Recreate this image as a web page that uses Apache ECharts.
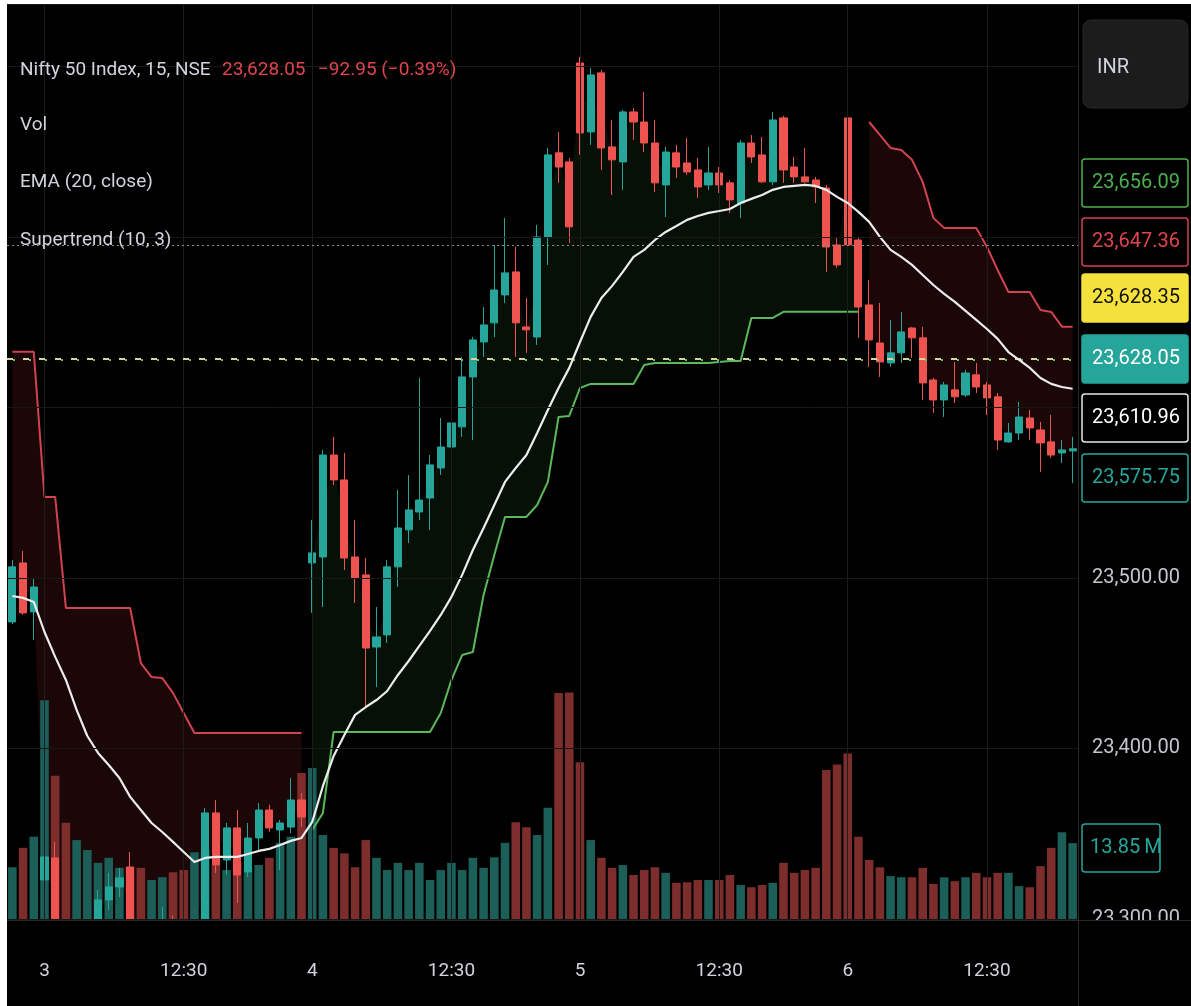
<!DOCTYPE html>
<html><head><meta charset="utf-8">
<script src="https://cdn.jsdelivr.net/npm/echarts@6/dist/echarts.min.js"></script>
<style>
html,body{margin:0;padding:0;background:#fff;width:1191px;height:1006px;overflow:hidden}
#c{position:absolute;left:7px;top:4px;width:1184px;height:1002px;background:#000}
</style></head><body><div id="c"></div>
<script>
// ---- session / category labels ----
const sessionTimes = ['09:15','09:30','09:45','10:00','10:15','10:30','10:45','11:00','11:15','11:30','11:45','12:00','12:15','12:30','12:45','13:00','13:15','13:30','13:45','14:00','14:15','14:30','14:45','15:00','15:15'];
const dayLabels = ['2','3','4','5','6'];
const daySlices = [[22,25],[0,25],[0,25],[0,25],[0,22]];
const tickTimes = ['09:15','12:30'];

// ---- OHLC (15 min candles) ----
const open = [23474.2,23508.8,23480.1,
23322.9,23335.8,23290.0,23276.0,23288.0,23292.0,23311.2,23318.8,23330.5,23290.0,23280.0,23285.0,23299.0,23290.0,23284.0,23290.0,23362.2,23334.6,23353.4,23327.6,23347.5,23363.9,23352.2,23353.9,23369.8,
23508.8,23512.3,23572.1,23557.5,23512.3,23501.8,23459.5,23466.6,23506.5,23528.2,23538.7,23546.9,23564.5,23576.8,23588.6,23617.9,23638.4,23649.6,23666.0,23679.5,23647.2,23641.3,23700.0,23749.3,23744.0,
23802.0,23761.6,23796.2,23752.8,23744.0,23773.3,23767.4,23755.1,23730.5,23749.3,23743.4,23739.3,23730.5,23737.5,23731.7,23719.9,23755.1,23748.1,23732.3,23769.8,23741.0,23735.2,23733.4,23728.7,23695.3,
23769.8,23698.2,23660.1,23637.8,23626.1,23632.0,23646.6,23640.8,23616.1,23604.4,23610.3,23607.3,23619.1,23613.2,23606.2,23579.8,23585.0,23593.8,23586.8,23579.8,23573.3,23574.5];
const close = [23506.5,23479.5,23494.7,
23336.4,23290.0,23275.0,23288.0,23296.0,23311.2,23318.8,23324.1,23290.0,23280.0,23288.0,23296.0,23286.0,23282.0,23296.0,23362.2,23331.7,23353.4,23325.8,23347.5,23363.9,23353.4,23356.3,23369.8,23359.8,
23514.7,23572.1,23557.5,23511.7,23500.0,23458.9,23465.4,23506.5,23529.3,23539.9,23545.7,23566.3,23576.8,23590.9,23617.9,23639.6,23648.4,23668.9,23678.9,23649.6,23645.5,23700.0,23748.1,23741.0,23705.9,
23761.0,23795.0,23752.2,23745.2,23773.3,23767.4,23755.1,23731.7,23749.8,23741.0,23738.1,23729.3,23737.5,23730.5,23721.7,23755.1,23746.9,23732.3,23768.6,23739.3,23735.2,23732.3,23729.3,23694.1,23683.6,
23695.3,23658.9,23639.6,23626.7,23632.0,23644.3,23640.8,23614.4,23604.4,23613.2,23606.2,23620.2,23612.0,23605.6,23580.9,23585.0,23594.4,23588.0,23579.2,23572.1,23575.1,23575.75];
const high = [23510.6,23515.8,23500.0,
23346.3,23345.2,23297.0,23295.0,23299.0,23317.0,23327.0,23329.9,23339.3,23296.0,23295.0,23307.0,23302.0,23297.0,23299.0,23365.0,23369.8,23356.3,23363.9,23356.3,23368.0,23366.9,23358.1,23382.7,23373.9,
23534.0,23575.1,23582.7,23573.3,23534.0,23511.7,23483.0,23510.6,23551.6,23560.4,23617.3,23572.1,23593.8,23613.2,23629.6,23641.3,23658.9,23695.3,23711.1,23694.1,23664.2,23707.0,23752.2,23761.6,23746.3,
23805.6,23799.1,23797.9,23768.6,23774.5,23775.7,23785.0,23768.6,23752.8,23754.0,23758.0,23746.3,23752.8,23741.0,23733.4,23756.9,23759.8,23758.6,23773.3,23771.0,23746.9,23752.2,23735.2,23730.5,23700.0,
23772.7,23700.0,23674.8,23661.3,23651.3,23656.0,23647.2,23647.2,23617.3,23615.0,23626.7,23622.0,23626.1,23615.0,23608.5,23590.9,23603.2,23598.5,23591.5,23595.6,23580.9,23582.7];
const low = [23473.0,23478.3,23463.6,
23296.5,23285.0,23268.0,23270.0,23282.0,23288.0,23305.3,23312.9,23284.0,23272.0,23275.0,23280.0,23278.0,23274.0,23278.0,23285.0,23327.0,23326.0,23309.4,23324.6,23340.5,23351.2,23328.7,23350.4,23353.9,
23479.5,23483.0,23554.5,23504.7,23485.3,23424.3,23436.1,23461.9,23494.7,23520.5,23534.0,23528.2,23560.4,23573.9,23582.7,23580.9,23629.6,23641.3,23661.3,23629.6,23632.0,23636.7,23683.6,23731.7,23696.5,
23748.1,23754.0,23739.3,23724.6,23727.6,23756.9,23749.8,23726.4,23711.7,23734.6,23736.4,23722.9,23727.6,23725.8,23714.1,23711.1,23743.4,23731.7,23730.5,23731.7,23731.7,23731.7,23719.9,23679.5,23681.8,
23684.7,23640.8,23623.8,23617.9,23623.8,23626.1,23629.0,23604.4,23596.8,23594.4,23602.6,23606.2,23608.5,23595.6,23575.1,23579.2,23580.9,23580.9,23562.2,23570.4,23567.4,23555.7];

// ---- Volume (millions) ----
const volume = [9.5,13,15,
39.6,26,17.5,14.4,12.6,10.3,11.2,9.4,9.5,9.4,7.2,7.7,8.6,9,12.2,12.6,10,9,10.3,9.5,9.9,11.2,13.9,15,26.5,
27.4,15.3,13,12,9.5,14.4,11.2,9,10.3,9,10.3,7.2,9,10.3,9,11.2,9.4,11.3,13.9,17.6,16.7,15.3,20.2,40.9,41,
28.4,14.4,11.2,9.4,9.9,8.1,9,9.5,8.5,6.7,6.8,7.2,7.2,7.2,8.1,6.3,5.9,6.3,6.7,10.3,8.5,9,9.4,27,28,
30,15,10.8,9.5,7.9,7.7,7.7,9.4,6.5,7.7,7,7.7,8.5,7.7,8.5,8.5,6.1,5.9,9.7,13,15.8,13.85];

// ---- EMA (20, close) ----
const ema = [23489.4,23488.3,23485.9,
23468.3,23453.7,23440.2,23422.6,23407.3,23397.4,23390.3,23382.7,23371.6,23363.9,23356.3,23351.0,23345.2,23339.3,23333.4,23335.8,23336.4,23336.4,23336.4,23338.1,23339.9,23341.1,23343.4,23345.8,23347.5,
23356.9,23378.0,23395.6,23407.9,23419.7,23424.3,23428.4,23433.7,23443.1,23451.3,23460.1,23468.9,23478.3,23488.9,23501.8,23516.4,23529.3,23542.8,23556.3,23564.5,23572.1,23585.0,23598.5,23611.4,23623.2,
23638.4,23653.1,23664.2,23671.3,23679.5,23688.3,23692.4,23698.2,23702.9,23706.4,23710.0,23712.3,23714.1,23715.2,23716.4,23719.9,23722.3,23724.6,23727.6,23729.3,23729.9,23730.5,23729.9,23727.6,23723.5,
23719.9,23714.7,23708.8,23700.0,23692.4,23688.3,23683.6,23677.7,23671.8,23666.6,23661.9,23656.6,23651.3,23646.0,23640.2,23632.5,23627.9,23623.2,23617.3,23613.8,23612.0,23610.96];

// ---- Supertrend (10, 3) ----
const N = null;
const stDown = [23632.6,23632.6,23632.6,
23547.5,23547.5,23482.4,23482.4,23482.4,23482.4,23482.4,23482.4,23482.4,23450.1,23441.9,23441.3,23432.6,23420.8,23409.1,23409.1,23409.1,23409.1,23409.1,23409.1,23409.1,23409.1,23409.1,23409.1,23409.1,
N,N,N,N,N,N,N,N,N,N,N,N,N,N,N,N,N,N,N,N,N,N,N,N,N,
N,N,N,N,N,N,N,N,N,N,N,N,N,N,N,N,N,N,N,N,N,N,N,N,N,
N,N,23767.4,23759.8,23752.2,23751.0,23745.2,23732.3,23711.1,23705.3,23705.3,23705.3,23705.3,23694.1,23680.6,23667.7,23667.7,23667.7,23657.2,23656.0,23647.36,23647.36];
const stUp = [N,N,N,
N,N,N,N,N,N,N,N,N,N,N,N,N,N,N,N,N,N,N,N,N,N,N,N,N,
23352.2,23362.2,23409.7,23409.7,23409.7,23409.7,23409.7,23409.7,23409.7,23409.7,23409.7,23409.7,23420.8,23440.2,23454.8,23456.6,23490.0,23513.5,23535.8,23535.8,23535.8,23542.8,23556.3,23594.4,23595.0,
23611.4,23613.8,23613.8,23613.8,23613.8,23613.8,23624.9,23626.1,23626.1,23626.1,23626.1,23626.1,23626.1,23626.7,23627.3,23627.3,23652.5,23652.5,23652.5,23656.09,23656.09,23656.09,23656.09,23656.09,23656.09,
23656.09,23656.09,N,N,N,N,N,N,N,N,N,N,N,N,N,N,N,N,N,N,N,N];

// ---- horizontal price lines ----
const dottedLevel = 23695.3;
const yellowLevel = 23628.35;
const lastLevel = 23628.05;

// ---- build categories ----
const categories = [];
dayLabels.forEach((d, i) => {
  sessionTimes.slice(daySlices[i][0], daySlices[i][1]).forEach(t => categories.push(d + ' ' + t));
});
const isTick = (v) => tickTimes.indexOf(v.split(' ')[1]) >= 0;
const tickCats = categories.filter(isTick).filter(v => !v.startsWith('2 '));

const UP = '#26a69a', DOWN = '#ef5350';
const candleData = open.map((o, i) => [o, close[i], low[i], high[i]]);
const mid = open.map((o, i) => (o + close[i]) / 2);
const volData = volume.map((v, i) => ({
  value: v,
  itemStyle: { color: close[i] >= open[i] ? '#1b5f58' : '#7c2d2c' }
}));
const dnBase = stDown.map((s, i) => s == null ? null : mid[i]);
const dnFill = stDown.map((s, i) => s == null ? null : s - mid[i]);
const upBase = stUp.map((s) => s);
const upFill = stUp.map((s, i) => s == null ? null : mid[i] - s);

const fmt = (v) => v.toLocaleString('en-US', { minimumFractionDigits: 2, maximumFractionDigits: 2 });
const FONT = 'Roboto, "Noto Sans", sans-serif';

function priceBox(cy, text, fill, stroke, color) {
  return [
    { type: 'rect', z: 110, shape: { x: 1075, y: cy - 24, width: 106, height: 48, r: 3 },
      style: { fill: fill, stroke: stroke, lineWidth: 1.5 } },
    { type: 'text', z: 111, x: 1085, y: cy,
      style: { text: text, fill: color, font: '20px ' + FONT, align: 'left', verticalAlign: 'middle' } }
  ];
}

const graphics = [
  // separators and clip of the time-axis band
  { type: 'rect', z: 100, shape: { x: 0, y: 917, width: 1184, height: 85 }, style: { fill: '#000' } },
  { type: 'line', z: 101, shape: { x1: 1071.5, y1: 0, x2: 1071.5, y2: 1002 }, style: { stroke: '#2a2a2a', lineWidth: 1 } },
  { type: 'line', z: 101, shape: { x1: 0, y1: 916.5, x2: 1184, y2: 916.5 }, style: { stroke: '#2a2a2a', lineWidth: 1 } },
  // legend
  { type: 'text', z: 120, x: 13, y: 66, style: { text: 'Nifty 50 Index, 15, NSE', fill: '#d1d4dc', font: '19px ' + FONT, verticalAlign: 'middle' } },
  { type: 'text', z: 120, x: 215, y: 66, style: { text: '23,628.05', fill: '#e0454f', font: '19px ' + FONT, verticalAlign: 'middle' } },
  { type: 'text', z: 120, x: 311, y: 66, style: { text: '\u221292.95 (\u22120.39%)', fill: '#e0454f', font: '19px ' + FONT, verticalAlign: 'middle' } },
  { type: 'text', z: 120, x: 13, y: 121, style: { text: 'Vol', fill: '#d1d4dc', font: '19px ' + FONT, verticalAlign: 'middle' } },
  { type: 'text', z: 120, x: 13, y: 178, style: { text: 'EMA (20, close)', fill: '#d1d4dc', font: '19px ' + FONT, verticalAlign: 'middle' } },
  { type: 'text', z: 120, x: 13, y: 236, style: { text: 'Supertrend (10, 3)', fill: '#d1d4dc', font: '19px ' + FONT, verticalAlign: 'middle' } },
  // currency box
  { type: 'rect', z: 110, shape: { x: 1076, y: 16, width: 105, height: 88, r: 8 }, style: { fill: '#1c1c1c', stroke: '#262626', lineWidth: 1 } },
  { type: 'text', z: 111, x: 1090, y: 64, style: { text: 'INR', fill: '#d1d4dc', font: '20px ' + FONT, verticalAlign: 'middle' } },
  // volume box
  { type: 'rect', z: 110, shape: { x: 1075, y: 820, width: 78, height: 48, r: 3 }, style: { fill: '#000', stroke: UP, lineWidth: 1.5 } },
  { type: 'text', z: 111, x: 1083, y: 844, style: { text: '13.85\u2009M', fill: UP, font: '20px ' + FONT, verticalAlign: 'middle' } }
]
.concat(priceBox(179, fmt(23656.09), '#000', '#4caf50', '#4caf50'))
.concat(priceBox(238, fmt(23647.36), '#000', '#d1434e', '#e0454f'))
.concat(priceBox(294, fmt(yellowLevel), '#f5e13c', '#f5e13c', '#111'))
.concat(priceBox(355, fmt(lastLevel), UP, UP, '#ffffff'))
.concat(priceBox(414, fmt(23610.96), '#000', '#e6e6e6', '#ffffff'))
.concat(priceBox(474, fmt(23575.75), '#000', UP, UP));

const chart = echarts.init(document.getElementById('c'), null, { renderer: 'canvas' });
chart.setOption({
  animation: false,
  backgroundColor: '#000',
  grid: { left: 0, right: 113, top: 0, bottom: 86, outerBoundsMode: 'none', containLabel: false },
  xAxis: {
    type: 'category', data: categories, boundaryGap: true, z: 200,
    axisLine: { show: false }, axisTick: { show: false }, splitLine: { show: false },
    axisLabel: {
      interval: (idx, val) => isTick(val) && !val.startsWith('2 '),
      formatter: (val) => { const p = val.split(' '); return p[1] === '09:15' ? p[0] : p[1]; },
      color: '#d1d4dc', fontSize: 19, fontFamily: 'Roboto', margin: 42
    }
  },
  yAxis: [
    {
      type: 'value', position: 'right', min: 23299.4, max: 23836.6, splitNumber: 5, scale: true, z: 50,
      axisLine: { show: false }, axisTick: { show: false },
      splitLine: { lineStyle: { color: '#171717', width: 1 } },
      axisLabel: {
        margin: 14, color: '#c3c6ce', fontSize: 20, fontFamily: 'Roboto',
        formatter: (v) => (Math.abs(v - Math.round(v / 100) * 100) < 0.01 && v <= 23500) ? fmt(v) : '',
        showMinLabel: false, showMaxLabel: false
      }
    },
    { type: 'value', min: 0, max: 165, show: false, splitLine: { show: false } }
  ],
  graphic: graphics,
  series: [
    { name: 'dnBase', type: 'line', data: dnBase, stack: 'dn', symbol: 'none', silent: true, z: 1,
      lineStyle: { opacity: 0 } },
    { name: 'dnFill', type: 'line', data: dnFill, stack: 'dn', symbol: 'none', silent: true, z: 1,
      lineStyle: { opacity: 0 }, areaStyle: { color: 'rgba(242,54,69,0.11)', opacity: 1 } },
    { name: 'upBase', type: 'line', data: upBase, stack: 'up', symbol: 'none', silent: true, z: 1,
      lineStyle: { opacity: 0 } },
    { name: 'upFill', type: 'line', data: upFill, stack: 'up', symbol: 'none', silent: true, z: 1,
      lineStyle: { opacity: 0 }, areaStyle: { color: 'rgba(76,175,80,0.09)', opacity: 1 } },
    { name: 'Vol', type: 'bar', yAxisIndex: 1, data: volData, barWidth: '80%', z: 2, silent: true },
    { name: 'grid', type: 'line', data: [], z: 1, silent: true,
      markLine: { silent: true, symbol: ['none', 'none'], label: { show: false },
        lineStyle: { color: '#1c1c1c', width: 1, type: 'solid' },
        data: tickCats.map(c => ({ xAxis: c })) } },
    { name: 'levels', type: 'line', data: [], z: 3, silent: true,
      markLine: { silent: true, symbol: ['none', 'none'], label: { show: false },
        data: [
          { yAxis: dottedLevel, lineStyle: { color: '#8c8c8c', width: 1.2, type: [2, 3] } },
          { yAxis: yellowLevel, lineStyle: { color: '#d8d39a', width: 2, type: [6, 10], dashOffset: 0 } },
          { yAxis: lastLevel, lineStyle: { color: '#6fbf73', width: 2, type: [2, 14], dashOffset: 10 } }
        ] } },
    { name: 'Supertrend Up', type: 'line', data: stUp, symbol: 'none', z: 3, silent: true,
      lineStyle: { color: '#5cb85c', width: 2 } },
    { name: 'Supertrend Down', type: 'line', data: stDown, symbol: 'none', z: 3, silent: true,
      lineStyle: { color: '#d1434e', width: 2 } },
    { name: 'Nifty 50', type: 'candlestick', data: candleData, z: 4, clip: true, barWidth: 7.6,
      itemStyle: { color: UP, color0: DOWN, borderColor: UP, borderColor0: DOWN, borderWidth: 1 } },
    { name: 'EMA', type: 'line', data: ema, symbol: 'none', z: 5, silent: true,
      lineStyle: { color: '#ececec', width: 2.2 } }
  ]
});
</script></body></html>
